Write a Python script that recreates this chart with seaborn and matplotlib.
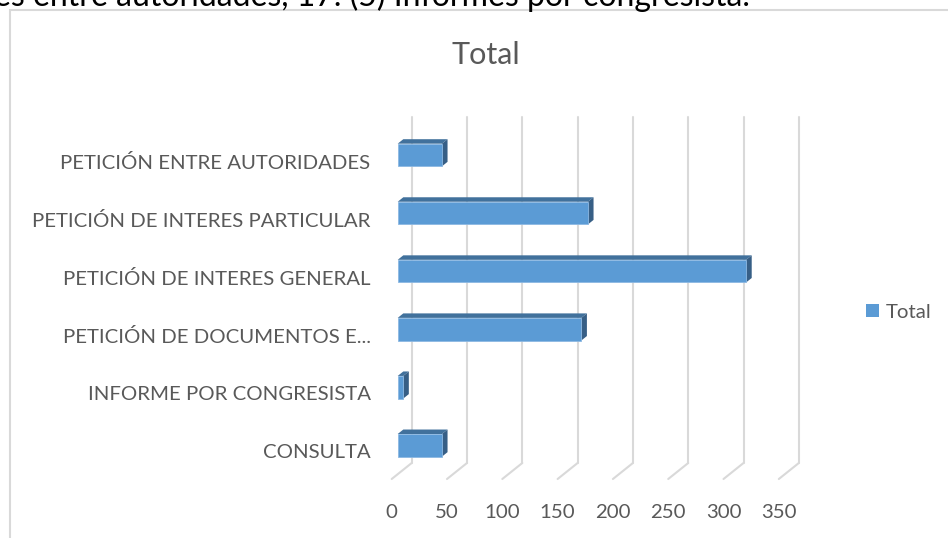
import numpy as np
import pandas as pd
import matplotlib
matplotlib.use('Agg')
import matplotlib.pyplot as plt
import seaborn as sns
from matplotlib.patches import Polygon, Rectangle, Patch
from matplotlib.lines import Line2D
from matplotlib.transforms import IdentityTransform, ScaledTranslation

# datos del gráfico (de arriba hacia abajo)
categorias = ['PETICIÓN ENTRE AUTORIDADES', 'PETICIÓN DE INTERES PARTICULAR',
              'PETICIÓN DE INTERES GENERAL', 'PETICIÓN DE DOCUMENTOS E...',
              'INFORME POR CONGRESISTA', 'CONSULTA']
totales = [40, 172, 315, 166, 5, 40]
ticks_x = [0, 50, 100, 150, 200, 250, 300, 350]
titulo = 'Total'
texto_superior = 'es entre autoridades, 17. (5) Informes por congresista.'

AZUL = '#5B9BD5'
AZUL_TOP = '#41719C'
AZUL_LADO = '#375F86'
GRIS_TXT = '#595959'
GRIS_GRID = '#D9D9D9'

sns.set_theme(style='white')
plt.rcParams['font.family'] = ['Lato', 'DejaVu Sans']

W, H = 948, 538
fig = plt.figure(figsize=(W / 100, H / 100), dpi=100)
ax = fig.add_axes([390 / W, 59 / H, 430 / W, 362 / H])

df = pd.DataFrame({'tipo': categorias, 'total': totales})
sns.barplot(data=df, x='total', y='tipo', orient='h', color=AZUL, saturation=1,
            width=0.39, ax=ax, zorder=3, edgecolor='#8CB8E2', linewidth=0.6)

ax.set_xlim(-6.96, 381.8)
ax.set_ylim(5.58, -0.6545)
for s in ax.spines.values():
    s.set_visible(False)
ax.set_xlabel('')
ax.set_ylabel('')
ax.set_xticks(ticks_x)
ax.set_xticklabels([str(t) for t in ticks_x])
ax.tick_params(axis='both', length=0, labelcolor=GRIS_TXT, labelsize=14.7)
ax.tick_params(axis='x', pad=18)
ax.tick_params(axis='y', pad=14)
ax.grid(False)

dpi = fig.dpi
for lbl in ax.get_xticklabels():
    lbl.set_transform(lbl.get_transform() + ScaledTranslation(-6 / dpi, 0, fig.dpi_scale_trans))
for lbl in ax.get_yticklabels():
    lbl.set_transform(lbl.get_transform() + ScaledTranslation(0, -6 / dpi, fig.dpi_scale_trans))

# profundidad del efecto 3D (pixeles)
prof = np.array([20.0, 16.0])
ident = IdentityTransform()
bbox = ax.get_position()
y_top = bbox.y1 * H
y_front = bbox.y0 * H
y_back = y_front + prof[1]

# rejilla del fondo y del piso
for v in ticks_x:
    xf = ax.transData.transform((v, 0))[0] - 0.3 * prof[0]
    xb = xf + prof[0]
    fig.add_artist(Line2D([xb, xb], [y_back, y_top], color=GRIS_GRID, lw=1.5,
                          transform=ident, zorder=1))
    fig.add_artist(Line2D([xb, xf], [y_back, y_front], color=GRIS_GRID, lw=1.5,
                          transform=ident, zorder=1))

# caras superior y lateral de las barras
d = 0.28 * prof
for p in ax.patches:
    x0, y0 = p.get_x(), p.get_y()
    w, h = p.get_width(), p.get_height()
    a = ax.transData.transform((x0, y0))
    b = ax.transData.transform((x0 + w, y0 + h))
    xl, xr = min(a[0], b[0]), max(a[0], b[0])
    yb, yt = min(a[1], b[1]), max(a[1], b[1])
    top = [(xl, yt), (xr, yt), (xr + d[0], yt + d[1]), (xl + d[0], yt + d[1])]
    lado = [(xr, yb), (xr, yt), (xr + d[0], yt + d[1]), (xr + d[0], yb + d[1])]
    fig.add_artist(Polygon(top, closed=True, facecolor=AZUL_TOP, edgecolor='none',
                           transform=ident, zorder=2.5))
    fig.add_artist(Polygon(lado, closed=True, facecolor=AZUL_LADO, edgecolor='none',
                           transform=ident, zorder=2.5))

ax.set_zorder(3)
ax.patch.set_alpha(0)

# título
fig.text(486 / W, 1 - 64 / H, titulo, ha='center', va='baseline', fontsize=22, color=GRIS_TXT)

# leyenda
fig.legend(handles=[Patch(facecolor=AZUL, edgecolor='none', label='Total')],
           loc='center left', bbox_to_anchor=(866 / W, 1 - 312 / H), frameon=False,
           borderpad=0, borderaxespad=0,
           handlelength=0.63, handleheight=0.63, handletextpad=0.33,
           prop={'size': 14.7}, labelcolor=GRIS_TXT)

# borde del área del gráfico
fig.add_artist(Rectangle((9.5 / W, -0.2), 1.2, 1.2 - 10 / H, transform=fig.transFigure,
                         fill=False, edgecolor=GRIS_GRID, lw=1.5, zorder=0))

# texto del documento cortado arriba
fig.text(-6 / W, 1 - 6 / H, texto_superior, ha='left', va='baseline', fontsize=23, color='black')

fig.savefig('out.png', dpi=100)
